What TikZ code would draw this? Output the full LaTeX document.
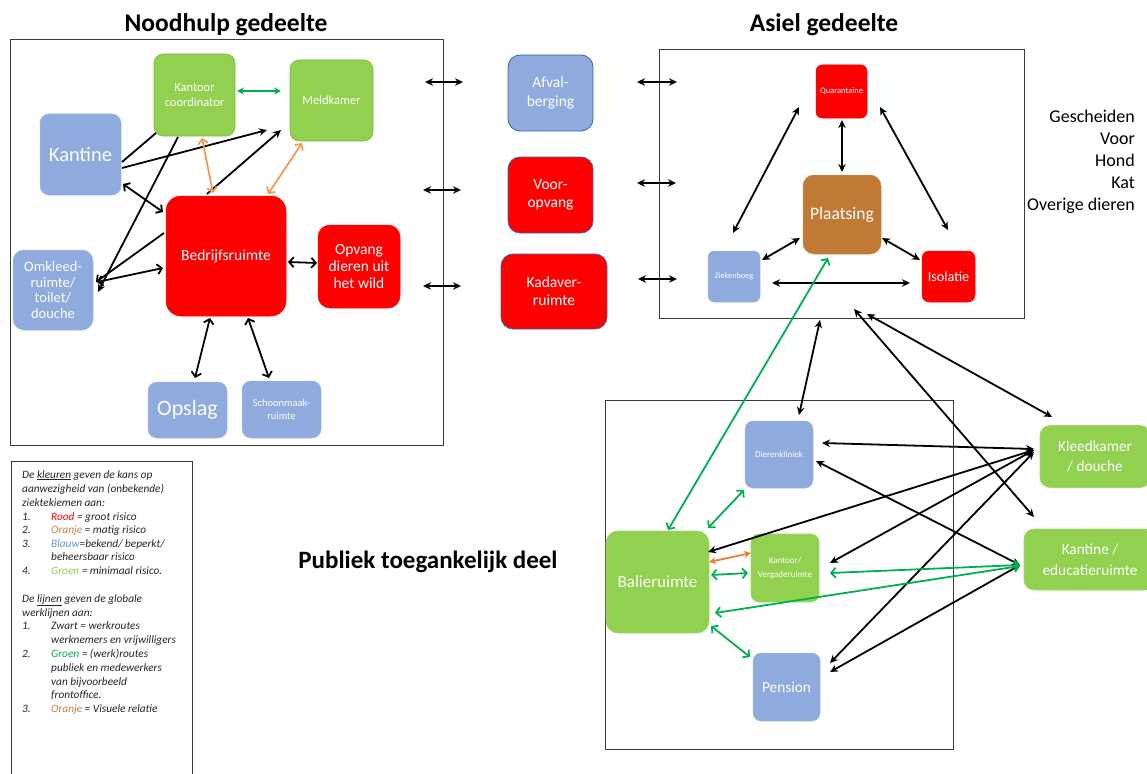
\documentclass[tikz,border=0pt]{standalone}
\usepackage{fontspec}
\setmainfont{Carlito}
\usetikzlibrary{arrows.meta,calc}
\definecolor{cblue}{HTML}{8FAADC}
\definecolor{cgreen}{HTML}{92D050}
\definecolor{cred}{HTML}{FF0000}
\definecolor{cbrown}{HTML}{C07A35}
\definecolor{lgreen}{HTML}{00B050}
\definecolor{lorange}{HTML}{ED7D31}
\definecolor{lorange2}{HTML}{F09A58}
\definecolor{frm}{HTML}{3A3A3A}
\definecolor{bordblue}{HTML}{41659C}
\definecolor{gbord}{HTML}{7DBB42}
\definecolor{legtxt}{HTML}{262626}
\definecolor{legorange}{HTML}{C8803F}
\definecolor{legblue}{HTML}{5B9BD5}
\newcommand\myfs[2]{\fontsize{#1}{#2}\selectfont}
\tikzset{
  room/.style={rounded corners=9pt, text=white, align=center, inner sep=0pt, outer sep=0pt},
  blueroom/.style={room, fill=cblue, draw=cblue!80!white, line width=0.5pt},
  blueroomb/.style={room, fill=cblue, draw=bordblue, line width=0.8pt},
  redroom/.style={room, fill=cred, draw=cred, line width=0.5pt},
  redroomb/.style={room, fill=cred, draw=bordblue, line width=0.8pt},
  greenroom/.style={room, fill=cgreen, draw=gbord, line width=0.6pt},
  brownroom/.style={room, fill=cbrown, draw=cbrown!85!white, line width=0.5pt},
  area/.style={draw=frm, line width=1pt, inner sep=0pt, outer sep=0pt},
  blk/.style={draw=black, line width=1.8pt, {Stealth[length=8pt,width=7.5pt]}-{Stealth[length=8pt,width=7.5pt]}},
  blkone/.style={draw=black, line width=1.8pt, -{Stealth[length=8pt,width=7.5pt]}},
  blko/.style={draw=black, line width=1.8pt, {Straight Barb[length=4.5pt,width=10pt]}-{Straight Barb[length=4.5pt,width=10pt]}},
  blkoone/.style={draw=black, line width=1.8pt, -{Straight Barb[length=4.5pt,width=10pt]}},
  blkplain/.style={draw=black, line width=1.8pt},
  grn/.style={draw=lgreen, line width=1.8pt, {Straight Barb[length=4.5pt,width=10pt]}-{Straight Barb[length=4.5pt,width=10pt]}},
  grnfill/.style={draw=lgreen, line width=1.8pt, {Stealth[length=7pt,width=7pt]}-{Stealth[length=7pt,width=7pt]}},
  org/.style={draw=lorange2, line width=1.8pt, {Straight Barb[length=4.5pt,width=10pt]}-{Straight Barb[length=4.5pt,width=10pt]}},
  orgb/.style={draw=lorange, line width=1.8pt, {Stealth[length=7pt,width=7pt]}-{Stealth[length=7pt,width=7pt]}},
  title/.style={font=\myfs{25.5}{28}\bfseries, text=black, anchor=base},
  legline/.style={anchor=base west, inner sep=0pt, font=\myfs{11.3}{13}\itshape, text=legtxt},
  side/.style={anchor=base east, inner sep=0pt, font=\myfs{18}{22}, text=black}
}
\begin{document}
\begin{tikzpicture}[x=1pt,y=-1pt]
\useasboundingbox (0,0) rectangle (1147,773);
\fill[white] (0,0) rectangle (1147,773);

% ---------- titles ----------
\node[title] (t1) at (226,32) {Noodhulp gedeelte};
\node[title] (t2) at (824,32) {Asiel gedeelte};
\node[title, font=\myfs{25}{28}\bfseries] (t3) at (428,568) {Publiek toegankelijk deel};

% ---------- frames ----------
\node[area, minimum width=433pt, minimum height=405pt] (nood) at (226.5,242.5) {};
\node[area, minimum width=365pt, minimum height=268pt] (asiel) at (841.5,184) {};
\node[area, minimum width=348pt, minimum height=349pt] (publ) at (779,574.5) {};
\draw[frm, line width=1pt] (11,790) -- (11,461) -- (192,461) -- (192,790);

% ---------- Noodhulp rooms ----------
\node[greenroom, minimum width=81pt, minimum height=82pt, font=\myfs{12.5}{14.3}] (kc) at (194.5,95) {Kantoor\\coordinator};
\node[greenroom, minimum width=83pt, minimum height=81pt, font=\myfs{12.5}{14}] (meld) at (331.5,100.5) {Meldkamer};
\node[blueroom, minimum width=81pt, minimum height=81pt, font=\myfs{20.5}{22}] (kant) at (80.5,154.5) {Kantine};
\node[redroom, rounded corners=15pt, minimum width=120pt, minimum height=120pt, font=\myfs{15.5}{18}] (bed) at (226,256) {Bedrijfsruimte};
\node[redroom, rounded corners=12pt, minimum width=82pt, minimum height=83pt, font=\myfs{15.5}{17}] (opv) at (359,266.5) {Opvang\\dieren uit\\het wild};
\node[blueroom, rounded corners=11pt, minimum width=80pt, minimum height=80pt, font=\myfs{14.5}{15.5}] (omk) at (53,290) {Omkleed-\\ruimte/\\toilet/\\douche};
\node[blueroom, minimum width=79pt, minimum height=56pt, font=\myfs{22}{24}] (opsl) at (187.5,410) {Opslag};
\node[blueroom, minimum width=79pt, minimum height=57pt, font=\myfs{10.5}{12.5}] (scho) at (281.5,409.5) {Schoonmaak-\\ruimte};

% ---------- middle rooms ----------
\node[blueroomb, rounded corners=12pt, minimum width=85pt, minimum height=76pt, font=\myfs{15.5}{18.3}] (afv) at (550.5,93) {Afval-\\berging};
\node[redroomb, rounded corners=12pt, minimum width=85pt, minimum height=76pt, font=\myfs{15.5}{18.3}] (voor) at (550.5,195) {Voor-\\opvang};
\node[redroomb, rounded corners=12pt, minimum width=106pt, minimum height=75pt, font=\myfs{15.5}{18.3}] (kad) at (554,291.5) {Kadaver-\\ruimte};

% ---------- Asiel rooms ----------
\node[redroom, rounded corners=6pt, minimum width=51pt, minimum height=53pt, font=\myfs{8.5}{9}] (quar) at (841.5,91.5) {Quarantaine};
\node[brownroom, rounded corners=11pt, minimum width=78pt, minimum height=79pt, font=\myfs{17.5}{20}] (plaa) at (842,214.5) {Plaatsing};
\node[blueroom, rounded corners=6pt, minimum width=52pt, minimum height=51pt, font=\myfs{8.2}{9}] (ziek) at (734,276.5) {Ziekenboeg};
\node[redroom, rounded corners=7pt, minimum width=53pt, minimum height=51pt, font=\myfs{14.2}{16}] (iso) at (948.5,276.5) {Isolatie};

% ---------- Publiek rooms ----------
\node[blueroom, rounded corners=8pt, minimum width=68pt, minimum height=67pt, font=\myfs{9}{11}] (dier) at (779,454.5) {Dierenkliniek};
\node[greenroom, draw=cgreen!85!white, rounded corners=12pt, minimum width=103pt, minimum height=102pt, font=\myfs{17}{19}] (bal) at (657.5,582) {Balieruimte};
\node[greenroom, draw=cgreen!85!white, rounded corners=8pt, minimum width=68pt, minimum height=68pt, font=\myfs{9}{14.3}] (kvg) at (785,568) {Kantoor/\\Vergaderuimte};
\node[blueroom, rounded corners=8pt, minimum width=67pt, minimum height=68pt, font=\myfs{15.3}{17}] (pens) at (786.5,687) {Pension};
\node[greenroom, draw=cgreen!85!white, rounded corners=10pt, minimum width=110pt, minimum height=62pt, font=\myfs{15.3}{20.5}] (kleed) at (1095,456.5) {Kleedkamer\\/ douche};
\node[greenroom, draw=cgreen!85!white, rounded corners=10pt, minimum width=132pt, minimum height=61pt, font=\myfs{15.3}{20.5}] (kedu) at (1090,559.5) {Kantine /\\educatieruimte};

% ---------- side text ----------
\node[side] (s1) at (1135,122) {Gescheiden};
\node[side] (s2) at (1135,144) {Voor};
\node[side] (s3) at (1135,166) {Hond};
\node[side] (s4) at (1135,188) {Kat};
\node[side] (s5) at (1135,210) {Overige dieren};

% ---------- legend ----------
\node[legline] (l1) at (22,478) {De \underline{kleuren} geven de kans op};
\node[legline] (l2) at (22,492) {aanwezigheid van (onbekende)};
\node[legline] (l3) at (22,506) {ziektekiemen aan:};
\node[legline] (n4) at (22,520) {1.};
\node[legline] (l4) at (51,520) {{\color{red}Rood} = groot risico};
\node[legline] (n5) at (22,533) {2.};
\node[legline] (l5) at (51,533) {{\color{legorange}Oranje} = matig risico};
\node[legline] (n6) at (22,547) {3.};
\node[legline] (l6) at (51,547) {{\color{legblue}Blauw}=bekend/ beperkt/};
\node[legline] (l7) at (51,560) {beheersbaar risico};
\node[legline] (n8) at (22,574) {4.};
\node[legline] (l8) at (51,574) {{\color{cgreen}Groen} = minimaal risico.};
\node[legline] (l9) at (22,602) {De \underline{lijnen} geven de globale};
\node[legline] (l10) at (22,616) {werklijnen aan:};
\node[legline] (n11) at (22,629) {1.};
\node[legline] (l11) at (51,629) {Zwart = werkroutes};
\node[legline] (l12) at (51,643) {werknemers en vrijwilligers};
\node[legline] (n13) at (22,657) {2.};
\node[legline] (l13) at (51,657) {{\color{lgreen}Groen} = (werk)routes};
\node[legline] (l14) at (51,671) {publiek en medewerkers};
\node[legline] (l15) at (51,685) {van bijvoorbeeld};
\node[legline] (l16) at (51,698) {frontoffice.};
\node[legline] (n17) at (22,712) {3.};
\node[legline] (l17) at (51,712) {{\color{legorange}Oranje} = Visuele relatie};

% ---------- Noodhulp connectors ----------
\draw[grnfill] ($(kc)+(42.5,-4)$) -- ($(meld)+(-50.5,-9.5)$);
\draw[blkplain] ($(kant)+(41.5,7.5)$) -- ($(kc)+(-38.5,38)$);
\draw[blkone] ($(kant)+(41.5,13.5)$) -- ($(meld)+(-64.5,29.5)$);
\draw[blkone] ($(bed)+(-19,-62)$) -- ($(meld)+(-50.5,29.5)$);
\draw[blko] ($(kant)+(42.5,29.5)$) -- ($(bed)+(-63,-44)$);
\draw[org] ($(kc)+(7.5,43)$) -- ($(bed)+(-13,-63)$);
\draw[org] ($(meld)+(-29.5,42.5)$) -- ($(bed)+(42,-62)$);
\draw[blkoone] ($(bed)+(-62,-23)$) -- ($(omk)+(43,-8)$);
\draw[blko] ($(omk)+(44,-8)$) -- ($(bed)+(-63,12)$);
\draw[blkone] ($(kc)+(-16.5,42)$) -- ($(omk)+(45,2)$);
\draw[blko] ($(bed)+(62,6)$) -- ($(opv)+(-42,-3.5)$);
\draw[blko] ($(bed)+(-16,62)$) -- ($(opsl)+(7.5,-32)$);
\draw[blko] ($(bed)+(22,62)$) -- ($(scho)+(-12.5,-31.5)$);

% ---------- arrows across the frame borders ----------
\coordinate (la1) at (425,82);  \coordinate (lb1) at (463,82);
\coordinate (la2) at (423,190); \coordinate (lb2) at (461,190);
\coordinate (la3) at (423,286); \coordinate (lb3) at (461,286);
\coordinate (ra1) at (637,82);  \coordinate (rb1) at (677,82);
\coordinate (ra2) at (637,183); \coordinate (rb2) at (676,183);
\coordinate (ra3) at (638,279); \coordinate (rb3) at (677,279);
\draw[blk] (la1) -- (lb1);
\draw[blk] (la2) -- (lb2);
\draw[blk] (la3) -- (lb3);
\draw[blk] (ra1) -- (rb1);
\draw[blk] (ra2) -- (rb2);
\draw[blk] (ra3) -- (rb3);

% ---------- Asiel connectors ----------
\draw[blk] ($(quar)+(0.5,28.5)$) -- ($(plaa)+(0,-42.5)$);
\draw[blk] ($(quar)+(-42.5,15.5)$) -- ($(ziek)+(-1,-43.5)$);
\draw[blk] ($(quar)+(38.5,15.5)$) -- ($(iso)+(-0.5,-46.5)$);
\draw[blk] ($(ziek)+(28,-16.5)$) -- ($(plaa)+(-42,23.5)$);
\draw[blk] ($(plaa)+(40,23.5)$) -- ($(iso)+(-28.5,-16.5)$);
\draw[blk] ($(ziek)+(38,6.5)$) -- ($(iso)+(-38.5,6.5)$);
\draw[grn] ($(bal)+(10.5,-52)$) -- ($(plaa)+(-14,43.5)$);

% ---------- Asiel to Publiek / outside ----------
\draw[blk] ($(asiel)+(-21.5,136)$) -- ($(dier)+(20,-39.5)$);
\draw[blk] ($(asiel)+(12.5,125)$) -- ($(kedu)+(-56,-42.5)$);
\draw[blk] ($(asiel)+(25.5,130)$) -- ($(kleed)+(-43,-39.5)$);

% ---------- Publiek black ----------
\draw[blk] ($(dier)+(43,-11.5)$) -- ($(kleed)+(-61,-7.5)$);
\draw[blk] ($(dier)+(37,6.5)$) -- ($(kedu)+(-70,5.5)$);
\draw[blk] ($(kleed)+(-61,-6.5)$) -- ($(bal)+(50.5,-30)$);
\draw[blk] ($(kleed)+(-61,-6.5)$) -- ($(kvg)+(45,-5)$);
\draw[blk] ($(kleed)+(-61,-4.5)$) -- ($(pens)+(43.5,-24)$);
\draw[blk] ($(kedu)+(-70,5.5)$) -- ($(pens)+(43.5,-15)$);

% ---------- Publiek green / orange ----------
\draw[grn] ($(bal)+(50.5,-54)$) -- ($(dier)+(-35,35.5)$);
\draw[orgb] ($(bal)+(51.5,-20)$) -- ($(kvg)+(-34,-15)$);
\draw[grn] ($(bal)+(53.5,-7)$) -- ($(kvg)+(-37,5)$);
\draw[grn] ($(kedu)+(-70,5.5)$) -- ($(kvg)+(45,5)$);
\draw[grn] ($(kedu)+(-70,6.5)$) -- ($(bal)+(57.5,31)$);
\draw[grn] ($(bal)+(53.5,44)$) -- ($(pens)+(-36.5,-30)$);
\end{tikzpicture}
\end{document}
